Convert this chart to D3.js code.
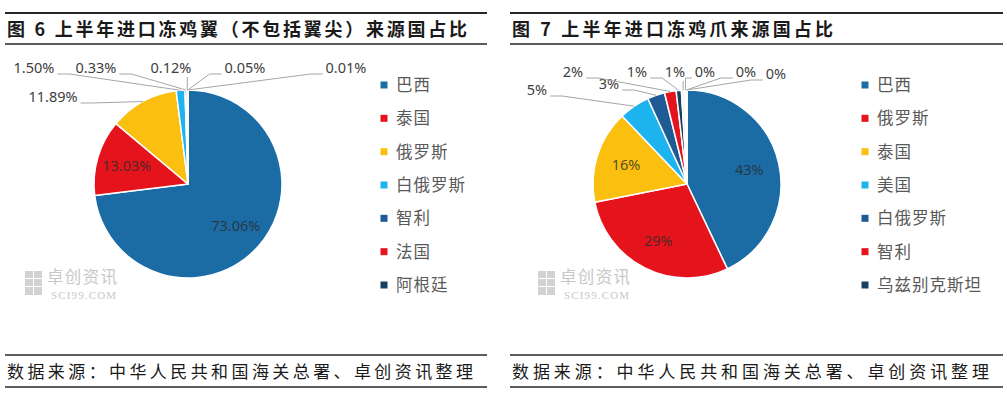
<!DOCTYPE html>
<html><head><meta charset="utf-8">
<script src="https://cdn.jsdelivr.net/npm/d3@7/dist/d3.min.js"></script>
<style>
html,body{margin:0;padding:0;background:#fff;}
svg{display:block;}
</style></head>
<body>
<svg id="chart" width="1007" height="396"></svg>
<script>
// ---------------- DATA ----------------
const leftTitle = "图 6 上半年进口冻鸡翼（不包括翼尖）来源国占比";
const leftCategories = ["巴西","泰国","俄罗斯","白俄罗斯","智利","法国","阿根廷"];
const leftValues = [73.06, 13.03, 11.89, 1.50, 0.33, 0.12, 0.05, 0.01];

const rightTitle = "图 7 上半年进口冻鸡爪来源国占比";
const rightCategories = ["巴西","俄罗斯","泰国","美国","白俄罗斯","智利","乌兹别克斯坦"];
const rightValues = [43.0, 29.0, 16.0, 5.3, 3.0, 2.0, 0.9, 0.6, 0.2, 0.1, 0.05];

const sourceText = "数据来源：中华人民共和国海关总署、卓创资讯整理";
const watermarkCn = "卓创资讯";
const watermarkEn = "SCI99.COM";

// ---------------- STYLE / LAYOUT ----------------
const palette = ["#1b6ca4","#e5141c","#fbbf10","#1cb3ee","#1e5a93","#e5141c","#183f60","#f2f2f2","#f2f2f2","#f2f2f2","#f2f2f2"];

const panels = [
  { title: leftTitle, cats: leftCategories, vals: leftValues,
    fmt: v => d3.format(".2f")(v) + "%",
    x0: 5, x1: 487, titleEnd: 467, footEnd: 473,
    cx: 188, cy: 184, r: 94,
    legendX: 384, inside: [0,1],
    outLabels: {2:[53,97],3:[34,68],4:[96,68],5:[171,68],6:[245,68],7:[346,68]},
    wm: [25, 279] },
  { title: rightTitle, cats: rightCategories, vals: rightValues,
    fmt: null,
    x0: 510, x1: 1003, titleEnd: 833, footEnd: 989,
    cx: 687, cy: 184, r: 94,
    legendX: 865, inside: [0,1,2],
    outLabels: {3:[537,90],4:[609,84],5:[573,72],6:[637,72],7:[675,72],8:[705,72],9:[746,72],10:[776,74]},
    wm: [538, 279] }
];

const svg = d3.select("#chart");
const CJK = "'Noto Sans CJK SC','Noto Sans',sans-serif";
const NUM = "'Noto Sans','Noto Sans CJK SC',sans-serif";

panels.forEach(p => {
  const g = svg.append("g");
  const tx0 = p.x0 + 2;
  // header lines
  g.append("line").attr("x1", p.x0).attr("x2", p.x1).attr("y1", 13).attr("y2", 13)
    .attr("stroke", "#262626").attr("stroke-width", 1.8);
  g.append("line").attr("x1", p.x0).attr("x2", p.x1).attr("y1", 44).attr("y2", 44)
    .attr("stroke", "#262626").attr("stroke-width", 1.5);
  g.append("text").attr("x", tx0).attr("y", 35.5)
    .attr("font-family", CJK).attr("font-weight", 700).attr("font-size", 18)
    .attr("fill", "#1a1a1a")
    .attr("textLength", p.titleEnd - tx0).attr("lengthAdjust", "spacing")
    .text(p.title);
  // footer
  g.append("line").attr("x1", p.x0).attr("x2", p.x1).attr("y1", 355).attr("y2", 355)
    .attr("stroke", "#262626").attr("stroke-width", 1.6);
  g.append("line").attr("x1", p.x0).attr("x2", p.x1).attr("y1", 387).attr("y2", 387)
    .attr("stroke", "#262626").attr("stroke-width", 1.6);
  g.append("text").attr("x", tx0).attr("y", 378)
    .attr("font-family", CJK).attr("font-size", 17).attr("fill", "#1a1a1a")
    .attr("textLength", p.footEnd - tx0).attr("lengthAdjust", "spacing")
    .text(sourceText);

  // watermark
  const wm = g.append("g").attr("transform", `translate(${p.wm[0]},${p.wm[1]})`);
  const cells = [[0,-8,8,7],[9,-8,8,7],[0,0,8,7],[9,0,8,7],[0,8,8,8],[9,8,8,8]];
  wm.selectAll("rect").data(cells).join("rect")
    .attr("x", d => d[0]).attr("y", d => d[1]).attr("width", d => d[2]).attr("height", d => d[3])
    .attr("fill", "#d2d2d2");
  wm.append("text").attr("x", 22).attr("y", 4).attr("font-family", CJK).attr("font-size", 16.5)
    .attr("fill", "#c8c8c8").attr("textLength", 70).attr("lengthAdjust", "spacing").text(watermarkCn);
  wm.append("text").attr("x", 26).attr("y", 19.5).attr("font-family", "'Liberation Serif',serif")
    .attr("font-size", 11).attr("fill", "#c8c8c8")
    .attr("textLength", 65).attr("lengthAdjust", "spacing").text(watermarkEn);

  // pie
  const total = d3.sum(p.vals);
  const fmt = p.fmt || (v => d3.format(".0%")(v / total));
  const pie = d3.pie().sort(null).value(d => d)(p.vals);
  const arc = d3.arc().innerRadius(0).outerRadius(p.r);
  const pg = g.append("g").attr("transform", `translate(${p.cx},${p.cy})`);
  pg.selectAll("path").data(pie).join("path")
    .attr("d", arc).attr("fill", (d, i) => palette[i])
    .attr("stroke", "#fff").attr("stroke-width", 1.5).attr("stroke-linejoin", "round");

  // inside labels
  const inArc = d3.arc().innerRadius(p.r * 0.68).outerRadius(p.r * 0.68);
  p.inside.forEach(i => {
    const c = inArc.centroid(pie[i]);
    pg.append("text").attr("x", c[0]).attr("y", c[1]).attr("dy", "0.35em")
      .attr("text-anchor", "middle").attr("font-family", NUM).attr("font-size", 14.5)
      .attr("fill", "#2b2b2b").attr("fill-opacity", 0.8).text(fmt(p.vals[i]));
  });

  // outside labels with leaders
  Object.keys(p.outLabels).forEach(k => {
    const i = +k;
    const [lx, ly] = p.outLabels[k];
    const t = g.append("text").attr("x", lx).attr("y", ly).attr("dy", "0.35em")
      .attr("text-anchor", "middle").attr("font-family", NUM).attr("font-size", 14.5)
      .attr("fill", "#404040").text(fmt(p.vals[i]));
    const w = t.node().getComputedTextLength();
    const a = (pie[i].startAngle + pie[i].endAngle) / 2;
    const px = p.cx + p.r * Math.sin(a), py = p.cy - p.r * Math.cos(a);
    let pts;
    if (lx + w / 2 < px - 3) {
      const ax = lx + w / 2 + 3, ay = ly + 6;
      pts = [[px, py], [ax + Math.min(12, px - ax), ay], [ax, ay]];
    } else if (lx - w / 2 > px + 3) {
      const ax = lx - w / 2 - 3, ay = ly + 6;
      pts = [[px, py], [ax - Math.min(12, ax - px), ay], [ax, ay]];
    } else {
      pts = [[px, py], [px, ly + 9]];
    }
    g.append("path").attr("d", d3.line()(pts)).attr("fill", "none")
      .attr("stroke", "#a6a6a6").attr("stroke-width", 1);
  });

  // legend
  const lg = g.append("g");
  const rowY = d3.scalePoint().domain(d3.range(7)).range([85, 285]);
  p.cats.forEach((c, i) => {
    lg.append("rect").attr("x", p.legendX - 3.5).attr("y", rowY(i) - 3.5)
      .attr("width", 7).attr("height", 7).attr("fill", palette[i]);
    lg.append("text").attr("x", p.legendX + 12).attr("y", rowY(i)).attr("dy", "0.36em")
      .attr("font-family", CJK).attr("font-size", 16.5).attr("fill", "#595959")
      .attr("letter-spacing", 1).text(c);
  });
});
</script>
</body></html>
